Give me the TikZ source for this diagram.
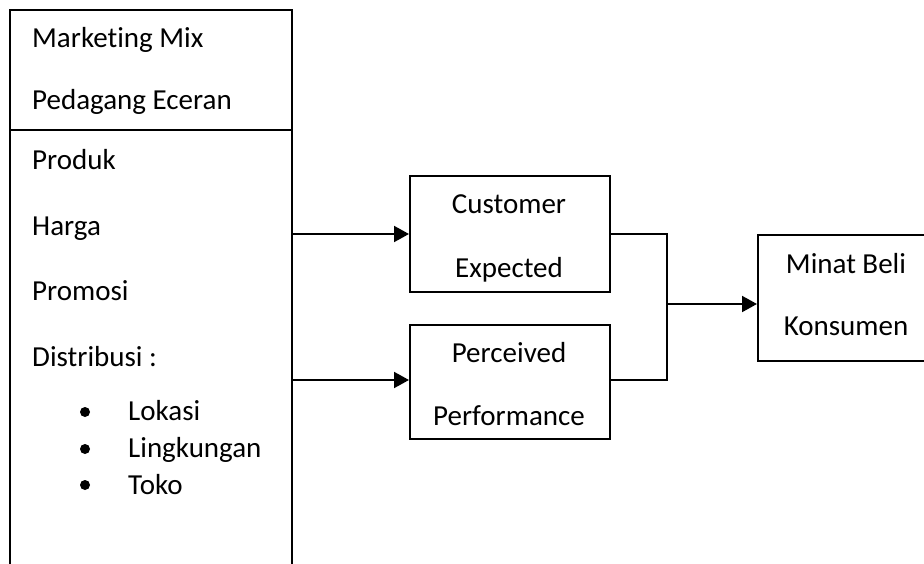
\documentclass[tikz,border=0pt]{standalone}
\usepackage{fontspec}
\setmainfont{Carlito}[Ligatures=NoCommon]
\usetikzlibrary{arrows.meta}
\begin{document}
\begin{tikzpicture}[x=1pt,y=-1pt,
  box/.style={draw,line width=1.7pt,inner sep=0pt,anchor=north west},
  txt/.style={anchor=base west,inner sep=0pt,font=\fontsize{29}{35}\selectfont},
  ctxt/.style={anchor=base,inner sep=0pt,font=\fontsize{29}{35}\selectfont},
  conn/.style={line width=1.7pt},
  arr/.style={line width=2pt,-{Triangle[length=15pt,width=16pt]}},
  bul/.style={circle,fill=black,inner sep=0pt,minimum size=10pt}]
\useasboundingbox (0,0) rectangle (924,564);
% left box (open at bottom)
\coordinate (lb1) at (10,580);
\coordinate (lb2) at (10,10);
\coordinate (lb3) at (292,10);
\coordinate (lb4) at (292,580);
\coordinate (dv1) at (10,130);
\coordinate (dv2) at (292,130);
\draw[conn] (lb1) -- (lb2) -- (lb3) -- (lb4);
\draw[conn] (dv1) -- (dv2);
\node[txt] (t1) at (32,48) {Marketing Mix};
\node[txt] (t2) at (32,110) {Pedagang Eceran};
\node[txt] (t3) at (32,170) {Produk};
\node[txt] (t4) at (32,236) {Harga};
\node[txt] (t5) at (32,301) {Promosi};
\node[txt] (t6) at (32,366) {Distribusi :};
\node[bul] (b1) at (85,412) {};
\node[bul] (b2) at (85,449) {};
\node[bul] (b3) at (85,485) {};
\node[txt] (t7) at (128,420) {Lokasi};
\node[txt] (t8) at (128,457) {Lingkungan};
\node[txt] (t9) at (128,494) {Toko};
% middle boxes
\node[box,minimum width=200pt,minimum height=116pt] (cust) at (409,175) {};
\node[ctxt] (c1) at (509,214) {Customer};
\node[ctxt] (c2) at (509,277) {Expected};
\node[box,minimum width=200pt,minimum height=114pt] (perc) at (409,324) {};
\node[ctxt] (p1) at (509,362) {Perceived};
\node[ctxt] (p2) at (509,425) {Performance};
% right box
\node[box,minimum width=167pt,minimum height=126pt] (minat) at (757,234) {};
\node[ctxt] (m1) at (846,273) {Minat Beli};
\node[ctxt] (m2) at (846,335) {Konsumen};
% arrows from left box
\coordinate (s1) at (292,234);
\coordinate (s2) at (292,380);
\draw[arr] (s1) -- (s1 -| cust.west);
\draw[arr] (s2) -- (s2 -| perc.west);
% joining connector
\coordinate (j1) at (667,234);
\coordinate (j2) at (667,380);
\coordinate (jm) at (667,304);
\draw[conn] (j1 -| cust.east) -- (j1) -- (j2) -- (j2 -| perc.east);
\draw[arr] (jm) -- (jm -| minat.west);
\end{tikzpicture}
\end{document}
